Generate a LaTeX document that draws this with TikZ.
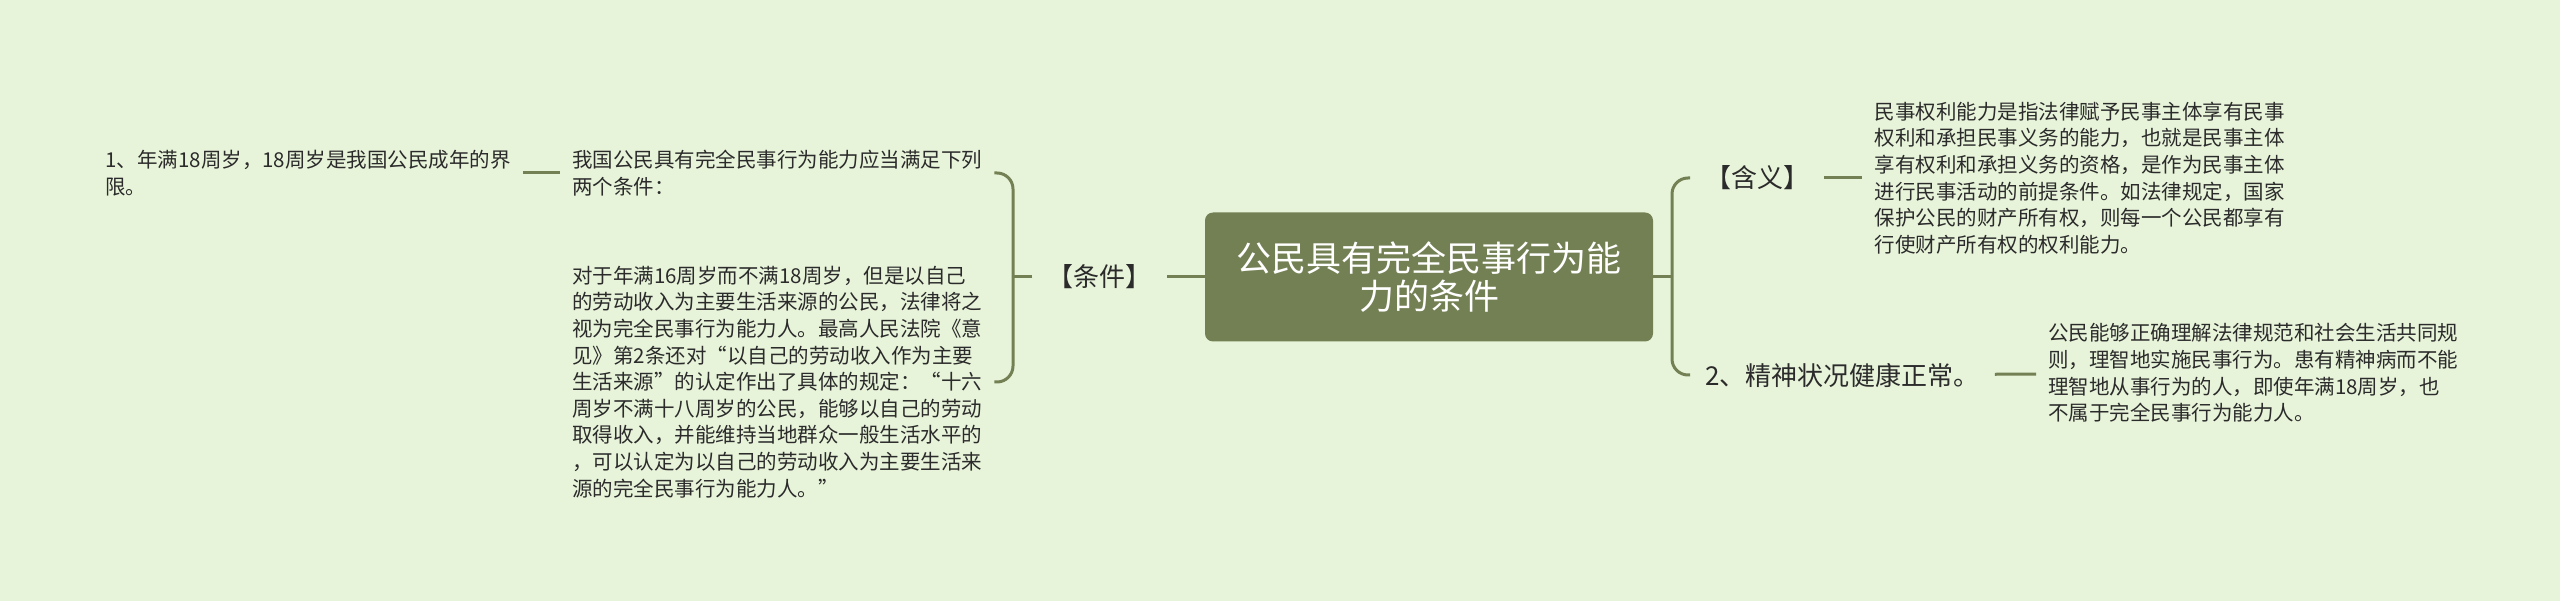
\documentclass[tikz,border=0pt]{standalone}
\usepackage{fontspec}
\setmainfont{Noto Sans CJK SC}
\usetikzlibrary{positioning}
\definecolor{sfondo}{HTML}{E8F4DA}
\definecolor{oliva}{HTML}{738054}
\definecolor{scuro}{HTML}{2B2B2B}
\tikzset{
  tema/.style  = {rectangle, rounded corners=8pt, fill=oliva, text=white, align=center,
                  minimum width=448pt, minimum height=129pt, font=\fontsize{35}{38}\selectfont},
  ramo/.style  = {inner xsep=15pt, inner ysep=4pt, text=scuro, font=\fontsize{26}{30}\selectfont},
  nota/.style  = {inner xsep=12pt, inner ysep=4pt, align=left, text=scuro,
                  font=\fontsize{20.5}{26.6}\selectfont},
  link/.style  = {draw=oliva, line width=3pt},
  graffa/.style = {link, rounded corners=16pt}
}

\begin{document}
\begin{tikzpicture}[x=1pt, y=-1pt, node distance=38pt]

  \fill[sfondo] (0,0) rectangle (2560,601);
  \useasboundingbox (0,0) rectangle (2560,601);

  \node[tema] (tema) at (1429,277) {公民具有完全民事行为能\\力的条件};

  % condizioni (sinistra)
  \node[ramo, left=of tema]             (cond)  {【条件】};
  \node[nota, anchor=west] at (560,173) (req)   {我国公民具有完全民事行为能力应当满足下列\\两个条件：};
  \node[nota, left=37pt of req]         (eta)   {1、年满18周岁，18周岁是我国公民成年的界\\限。};
  \node[nota, anchor=west] at (560,382) (lav)   {对于年满16周岁而不满18周岁，但是以自己\\
    的劳动收入为主要生活来源的公民，法律将之\\
    视为完全民事行为能力人。最高人民法院《意\\
    见》第2条还对“以自己的劳动收入作为主要\\
    生活来源”的认定作出了具体的规定：“十六\\
    周岁不满十八周岁的公民，能够以自己的劳动\\
    取得收入，并能维持当地群众一般生活水平的\\
    ，可以认定为以自己的劳动收入为主要生活来\\
    源的完全民事行为能力人。”};

  % significato + salute (destra)
  \node[ramo, anchor=west] at (1690,178) (sign)  {【含义】};
  \node[nota, right=of sign]             (defi)  {民事权利能力是指法律赋予民事主体享有民事\\
    权利和承担民事义务的能力，也就是民事主体\\
    享有权利和承担义务的资格，是作为民事主体\\
    进行民事活动的前提条件。如法律规定，国家\\
    保护公民的财产所有权，则每一个公民都享有\\
    行使财产所有权的权利能力。};
  \node[ramo, anchor=west] at (1690,375) (salute) {2、精神状况健康正常。};
  \node[nota, anchor=west] at (2036,373) (mente)  {公民能够正确理解法律规范和社会生活共同规\\
    则，理智地实施民事行为。患有精神病而不能\\
    理智地从事行为的人，即使年满18周岁，也\\
    不属于完全民事行为能力人。};

  \coordinate (sx) at (1013,277);
  \coordinate (dx) at (1672,277);

  \draw[link] (tema) -- (cond);
  \draw[link] (cond.west) -- (sx);
  \draw[graffa] (sx) |- (req.east);
  \draw[graffa] (sx) |- (lav.east);
  \draw[link] (req) -- (eta);

  \draw[link] (tema.east) -- (dx);
  \draw[graffa] (dx) |- (sign.west);
  \draw[graffa] (dx) |- (salute.west);
  \draw[link] (sign) -- (defi);
  \draw[link] (salute) -- (mente);

\end{tikzpicture}
\end{document}
